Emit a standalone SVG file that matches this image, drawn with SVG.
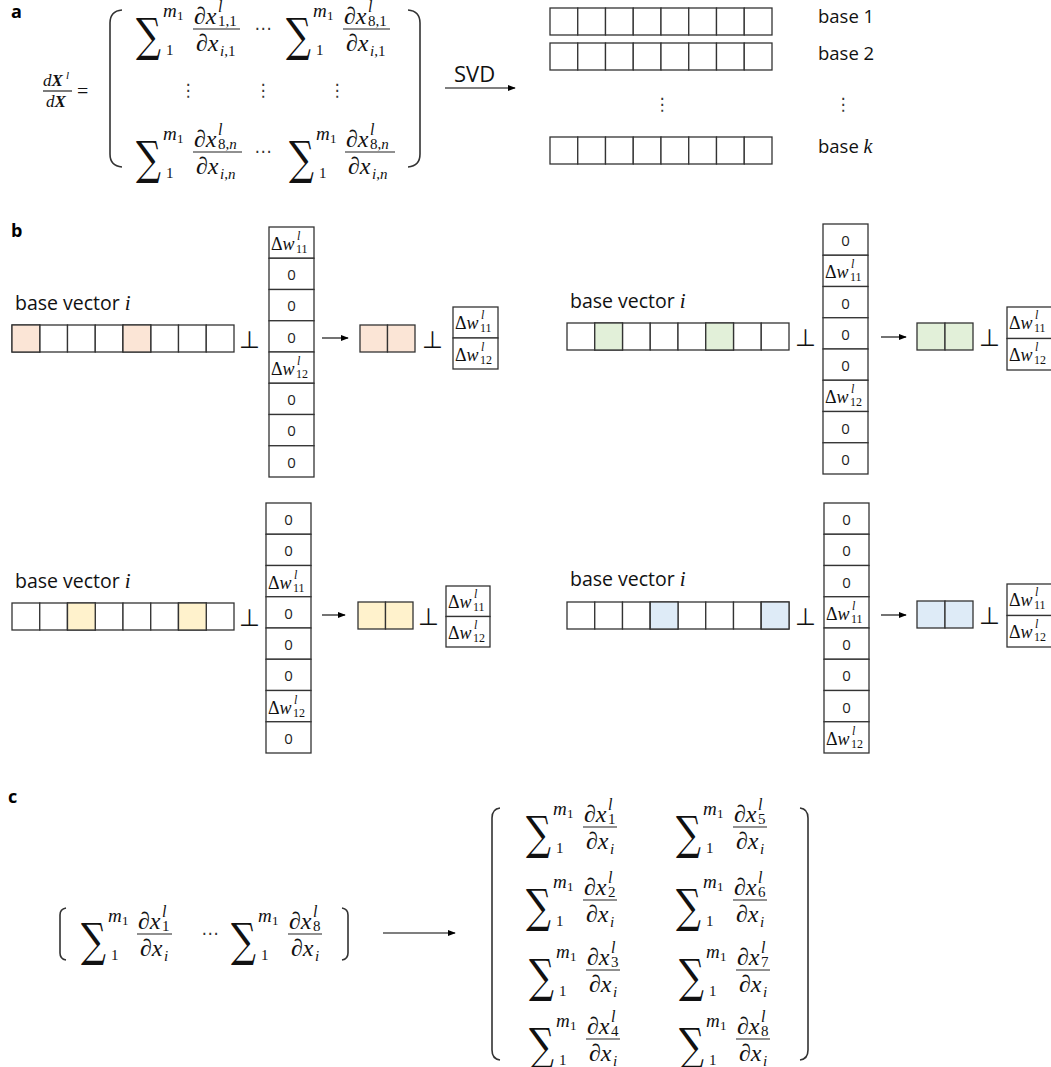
<svg xmlns="http://www.w3.org/2000/svg" width="1051" height="1067" viewBox="0 0 1051 1067">
<style>
.sans{font-family:"Open Sans","Noto Sans","DejaVu Sans",sans-serif;fill:#111}
.lab{font-family:"Open Sans","Noto Sans",sans-serif;font-weight:bold;font-size:18px;fill:#000}
.m{font-family:"Liberation Serif","Times New Roman",serif;fill:#111}
.i{font-style:italic}
.sig{font-family:"DejaVu Serif","Liberation Serif",serif;font-size:46px;fill:#111}
.c{fill:#fff;stroke:#333;stroke-width:1.3}
.ln{stroke:#222;stroke-width:1.2;fill:none}
.par{stroke:#333;stroke-width:1.6;fill:none}
.pk{fill:#fbe5d6}.gr{fill:#e2f0d9}.ye{fill:#fff2cc}.bl{fill:#deebf7}
.z{font-family:"Open Sans","Noto Sans",sans-serif;font-size:15px;fill:#222;text-anchor:middle}
.perp{font-family:"DejaVu Sans",sans-serif;font-size:24px;text-anchor:middle;fill:#111}
.dots{font-family:"DejaVu Sans",sans-serif;font-size:17px;text-anchor:middle;fill:#333}
.arr{stroke:#000;stroke-width:1.1;fill:none;marker-end:url(#ah)}
.nm{font-size:24px}.sp{font-size:16px}.sb{font-size:15px}
</style>
<defs>
<marker id="ah" viewBox="0 0 10 10" refX="9" refY="5" markerWidth="8" markerHeight="8" markerUnits="userSpaceOnUse" orient="auto"><path d="M0,1 L10,5 L0,9 z" fill="#000"/></marker>
<g id="sig">
<text class="sig" transform="translate(-1,22) scale(0.76,1)">∑</text>
<text class="m i" x="26" y="-12" font-size="19">m</text>
<text class="m" x="40" y="-9" font-size="13">1</text>
<text class="m" x="29" y="26" font-size="15">1</text>
</g>
<g id="row8">
<rect class="c" x="0" y="0" width="27.75" height="27"/><rect class="c" x="27.75" y="0" width="27.75" height="27"/><rect class="c" x="55.5" y="0" width="27.75" height="27"/><rect class="c" x="83.25" y="0" width="27.75" height="27"/><rect class="c" x="111" y="0" width="27.75" height="27"/><rect class="c" x="138.75" y="0" width="27.75" height="27"/><rect class="c" x="166.5" y="0" width="27.75" height="27"/><rect class="c" x="194.25" y="0" width="27.75" height="27"/>
</g>
<g id="col8">
<rect class="c" x="0" y="0" width="45" height="31.25"/><rect class="c" x="0" y="31.25" width="45" height="31.25"/><rect class="c" x="0" y="62.5" width="45" height="31.25"/><rect class="c" x="0" y="93.75" width="45" height="31.25"/><rect class="c" x="0" y="125" width="45" height="31.25"/><rect class="c" x="0" y="156.25" width="45" height="31.25"/><rect class="c" x="0" y="187.5" width="45" height="31.25"/><rect class="c" x="0" y="218.75" width="45" height="31.25"/>
</g>
<g id="dw11"><text class="m" x="2" y="23" font-size="18">Δ<tspan class="i">w</tspan></text><text class="m i" x="28" y="13" font-size="12">l</text><text class="m" x="27" y="26" font-size="12">11</text></g>
<g id="dw12"><text class="m" x="2" y="23" font-size="18">Δ<tspan class="i">w</tspan></text><text class="m i" x="28" y="13" font-size="12">l</text><text class="m" x="27" y="26" font-size="12">12</text></g>
</defs>
<rect width="1051" height="1067" fill="#fff"/>

<g id="panel-a">
<text class="lab" x="11" y="18">a</text>
<g id="dXdX">
<text class="m i" x="43" y="86" font-size="17">d<tspan font-weight="bold">X</tspan></text>
<text class="m i" x="66" y="79" font-size="11">l</text>
<line class="ln" x1="43" y1="91" x2="72" y2="91"/>
<text class="m i" x="46" y="107" font-size="17">d<tspan font-weight="bold">X</tspan></text>
<text class="m" x="77" y="98" font-size="20">=</text>
</g>
<g id="matrixA">
<path class="par" d="M122,10 Q110,11 110,23 L110,154 Q110,166 122,167"/>
<path class="par" d="M408,10 Q420,11 420,23 L420,154 Q420,166 408,167"/>
<use href="#sig" x="137" y="29"/>
<text class="m i nm" x="194" y="24">∂x</text><text class="m i sp" x="218" y="12">l</text><text class="m sb" x="218" y="26">1,1</text>
<line class="ln" x1="193" y1="29" x2="240" y2="29"/>
<text class="m i nm" x="196" y="51">∂x</text><text class="m sb" x="220" y="56"><tspan class="i">i</tspan>,1</text>
<text class="dots" x="263" y="34">⋯</text>
<use href="#sig" x="287" y="29"/>
<text class="m i nm" x="344" y="24">∂x</text><text class="m i sp" x="368" y="12">l</text><text class="m sb" x="368" y="26">8,1</text>
<line class="ln" x1="343" y1="29" x2="390" y2="29"/>
<text class="m i nm" x="346" y="51">∂x</text><text class="m sb" x="370" y="56"><tspan class="i">i</tspan>,1</text>
<text class="dots" x="188" y="96">⋮</text>
<text class="dots" x="263" y="96">⋮</text>
<text class="dots" x="337" y="96">⋮</text>
<use href="#sig" x="137" y="152"/>
<text class="m i nm" x="194" y="147">∂x</text><text class="m i sp" x="218" y="135">l</text><text class="m sb" x="218" y="149">8,<tspan class="i">n</tspan></text>
<line class="ln" x1="193" y1="152" x2="242" y2="152"/>
<text class="m i nm" x="196" y="174">∂x</text><text class="m sb" x="220" y="179"><tspan class="i">i</tspan>,<tspan class="i">n</tspan></text>
<text class="dots" x="263" y="157">⋯</text>
<use href="#sig" x="290" y="152"/>
<text class="m i nm" x="346" y="147">∂x</text><text class="m i sp" x="370" y="135">l</text><text class="m sb" x="370" y="149">8,<tspan class="i">n</tspan></text>
<line class="ln" x1="345" y1="152" x2="395" y2="152"/>
<text class="m i nm" x="348" y="174">∂x</text><text class="m sb" x="372" y="179"><tspan class="i">i</tspan>,<tspan class="i">n</tspan></text>
</g>
<text class="sans" x="454" y="82" font-size="22">SVD</text>
<g id="bases">
<use href="#row8" x="550" y="8"/>
<use href="#row8" x="550" y="43"/>
<text class="dots" x="662" y="110">⋮</text>
<use href="#row8" x="550" y="137"/>
<text class="sans" x="818" y="23" font-size="18.5">base 1</text>
<text class="sans" x="818" y="60" font-size="18.5">base 2</text>
<text class="dots" x="843" y="110">⋮</text>
<text class="sans" x="818" y="153" font-size="18.5">base <tspan class="m i" font-size="20">k</tspan></text>
</g>
</g>

<g id="panel-b">
<text class="lab" x="11" y="237">b</text>
<g id="b-tl">
<text class="sans" x="15" y="310" font-size="19.5">base vector <tspan class="m i" font-size="21">i</tspan></text>
<use href="#row8" x="12" y="325"/>
<rect class="c pk" x="12" y="325" width="27.75" height="27"/><rect class="c pk" x="123" y="325" width="27.75" height="27"/>
<text class="perp" x="249.5" y="348">⊥</text>
<use href="#col8" x="269" y="227"/>
<use href="#dw11" x="269" y="227"/>
<text class="z" x="291.5" y="280">0</text><text class="z" x="291.5" y="311">0</text><text class="z" x="291.5" y="343">0</text>
<use href="#dw12" x="269" y="352"/>
<text class="z" x="291.5" y="405">0</text><text class="z" x="291.5" y="436">0</text><text class="z" x="291.5" y="468">0</text>
<rect class="c pk" x="360" y="325" width="27.5" height="27"/><rect class="c pk" x="387.5" y="325" width="27.5" height="27"/>
<text class="perp" x="432.5" y="348">⊥</text>
<rect class="c" x="453" y="307" width="45" height="31"/><rect class="c" x="453" y="338" width="45" height="31"/>
<use href="#dw11" x="453" y="306"/><use href="#dw12" x="453" y="338"/>
</g>
<g id="b-tr">
<text class="sans" x="570" y="308" font-size="19.5">base vector <tspan class="m i" font-size="21">i</tspan></text>
<use href="#row8" x="567" y="323"/>
<rect class="c gr" x="594.75" y="323" width="27.75" height="27"/><rect class="c gr" x="705.75" y="323" width="27.75" height="27"/>
<text class="perp" x="805.5" y="346">⊥</text>
<use href="#col8" x="823" y="224"/>
<text class="z" x="845.5" y="246">0</text>
<use href="#dw11" x="823" y="255"/>
<text class="z" x="845.5" y="309">0</text><text class="z" x="845.5" y="340">0</text><text class="z" x="845.5" y="371">0</text>
<use href="#dw12" x="823" y="380"/>
<text class="z" x="845.5" y="434">0</text><text class="z" x="845.5" y="465">0</text>
<rect class="c gr" x="917" y="323" width="28" height="27"/><rect class="c gr" x="945" y="323" width="28" height="27"/>
<text class="perp" x="989.5" y="346">⊥</text>
<rect class="c" x="1007" y="307" width="50" height="31.5"/><rect class="c" x="1007" y="338.5" width="50" height="31.5"/>
<use href="#dw11" x="1007" y="306"/><use href="#dw12" x="1007" y="338"/>
</g>
<g id="b-bl">
<text class="sans" x="15" y="588" font-size="19.5">base vector <tspan class="m i" font-size="21">i</tspan></text>
<use href="#row8" x="12" y="603"/>
<rect class="c ye" x="67.5" y="603" width="27.75" height="27"/><rect class="c ye" x="178.5" y="603" width="27.75" height="27"/>
<text class="perp" x="249.5" y="626">⊥</text>
<use href="#col8" x="266" y="503"/>
<text class="z" x="288.5" y="525">0</text><text class="z" x="288.5" y="556">0</text>
<use href="#dw11" x="266" y="565.5"/>
<text class="z" x="288.5" y="619">0</text><text class="z" x="288.5" y="650">0</text><text class="z" x="288.5" y="681">0</text>
<use href="#dw12" x="266" y="690.5"/>
<text class="z" x="288.5" y="744">0</text>
<rect class="c ye" x="358" y="602" width="27.5" height="27"/><rect class="c ye" x="385.5" y="602" width="27.5" height="27"/>
<text class="perp" x="428.5" y="625">⊥</text>
<rect class="c" x="446" y="586" width="44" height="30.5"/><rect class="c" x="446" y="616.5" width="44" height="30.5"/>
<use href="#dw11" x="446" y="585"/><use href="#dw12" x="446" y="616"/>
</g>
<g id="b-br">
<text class="sans" x="570" y="586" font-size="19.5">base vector <tspan class="m i" font-size="21">i</tspan></text>
<use href="#row8" x="567" y="602"/>
<rect class="c bl" x="650.25" y="602" width="27.75" height="27"/><rect class="c bl" x="761.25" y="602" width="27.75" height="27"/>
<text class="perp" x="805.5" y="625">⊥</text>
<use href="#col8" x="824" y="503"/>
<text class="z" x="846.5" y="525">0</text><text class="z" x="846.5" y="556">0</text><text class="z" x="846.5" y="588">0</text>
<use href="#dw11" x="824" y="596.75"/>
<text class="z" x="846.5" y="650">0</text><text class="z" x="846.5" y="681">0</text><text class="z" x="846.5" y="713">0</text>
<use href="#dw12" x="824" y="721.75"/>
<rect class="c bl" x="917" y="601" width="28" height="27"/><rect class="c bl" x="945" y="601" width="28" height="27"/>
<text class="perp" x="989.5" y="624">⊥</text>
<rect class="c" x="1007" y="584" width="50" height="31.5"/><rect class="c" x="1007" y="615.5" width="50" height="31.5"/>
<use href="#dw11" x="1007" y="583"/><use href="#dw12" x="1007" y="615"/>
</g>
</g>

<g id="panel-c">
<text class="lab" x="8" y="803">c</text>
<g id="c-row">
<path class="par" d="M66,908 Q60,909 60,915 L60,953 Q60,959 66,960"/>
<path class="par" d="M342,908 Q348,909 348,915 L348,953 Q348,959 342,960"/>
<use href="#sig" x="82" y="934"/>
<text class="m i nm" x="138" y="929">∂x</text><text class="m i sp" x="162" y="917">l</text><text class="m sb" x="162" y="931">1</text>
<line class="ln" x1="137" y1="934" x2="172" y2="934"/>
<text class="m i nm" x="140" y="956">∂x</text><text class="m i sb" x="164" y="961">i</text>
<text class="dots" x="210" y="939">⋯</text>
<use href="#sig" x="232" y="934"/>
<text class="m i nm" x="289" y="929">∂x</text><text class="m i sp" x="313" y="917">l</text><text class="m sb" x="313" y="931">8</text>
<line class="ln" x1="288" y1="934" x2="322" y2="934"/>
<text class="m i nm" x="291" y="956">∂x</text><text class="m i sb" x="315" y="961">i</text>
</g>
<g id="c-mat">
<path class="par" d="M500,808 Q492,809 492,818 L492,1050 Q492,1059 500,1060"/>
<path class="par" d="M800,808 Q808,809 808,818 L808,1050 Q808,1059 800,1060"/>
<use href="#sig" x="527" y="827"/>
<text class="m i nm" x="584" y="822">∂x</text><text class="m i sp" x="608" y="810">l</text><text class="m sb" x="608" y="824">1</text>
<line class="ln" x1="583" y1="827" x2="617" y2="827"/>
<text class="m i nm" x="586" y="849">∂x</text><text class="m i sb" x="610" y="854">i</text>
<use href="#sig" x="677" y="827"/>
<text class="m i nm" x="734" y="822">∂x</text><text class="m i sp" x="758" y="810">l</text><text class="m sb" x="758" y="824">5</text>
<line class="ln" x1="733" y1="827" x2="767" y2="827"/>
<text class="m i nm" x="736" y="849">∂x</text><text class="m i sb" x="760" y="854">i</text>
<use href="#sig" x="527" y="900"/>
<text class="m i nm" x="584" y="895">∂x</text><text class="m i sp" x="608" y="883">l</text><text class="m sb" x="608" y="897">2</text>
<line class="ln" x1="583" y1="900" x2="617" y2="900"/>
<text class="m i nm" x="586" y="922">∂x</text><text class="m i sb" x="610" y="927">i</text>
<use href="#sig" x="677" y="900"/>
<text class="m i nm" x="734" y="895">∂x</text><text class="m i sp" x="758" y="883">l</text><text class="m sb" x="758" y="897">6</text>
<line class="ln" x1="733" y1="900" x2="767" y2="900"/>
<text class="m i nm" x="736" y="922">∂x</text><text class="m i sb" x="760" y="927">i</text>
<use href="#sig" x="530" y="970"/>
<text class="m i nm" x="587" y="965">∂x</text><text class="m i sp" x="611" y="953">l</text><text class="m sb" x="611" y="967">3</text>
<line class="ln" x1="586" y1="970" x2="620" y2="970"/>
<text class="m i nm" x="589" y="992">∂x</text><text class="m i sb" x="613" y="997">i</text>
<use href="#sig" x="680" y="970"/>
<text class="m i nm" x="737" y="965">∂x</text><text class="m i sp" x="761" y="953">l</text><text class="m sb" x="761" y="967">7</text>
<line class="ln" x1="736" y1="970" x2="770" y2="970"/>
<text class="m i nm" x="739" y="992">∂x</text><text class="m i sb" x="763" y="997">i</text>
<use href="#sig" x="530" y="1039"/>
<text class="m i nm" x="587" y="1034">∂x</text><text class="m i sp" x="611" y="1022">l</text><text class="m sb" x="611" y="1036">4</text>
<line class="ln" x1="586" y1="1039" x2="620" y2="1039"/>
<text class="m i nm" x="589" y="1061">∂x</text><text class="m i sb" x="613" y="1066">i</text>
<use href="#sig" x="680" y="1039"/>
<text class="m i nm" x="737" y="1034">∂x</text><text class="m i sp" x="761" y="1022">l</text><text class="m sb" x="761" y="1036">8</text>
<line class="ln" x1="736" y1="1039" x2="770" y2="1039"/>
<text class="m i nm" x="739" y="1061">∂x</text><text class="m i sb" x="763" y="1066">i</text>
</g>
</g>

<g id="connectors">
<line class="arr" x1="445" y1="88" x2="515" y2="88"/>
<line class="arr" x1="322" y1="338" x2="348" y2="338"/>
<line class="arr" x1="881" y1="337" x2="906" y2="337"/>
<line class="arr" x1="322" y1="615" x2="345" y2="615"/>
<line class="arr" x1="881" y1="615" x2="906" y2="615"/>
<line class="arr" x1="383" y1="933" x2="455" y2="933"/>
</g>
</svg>
